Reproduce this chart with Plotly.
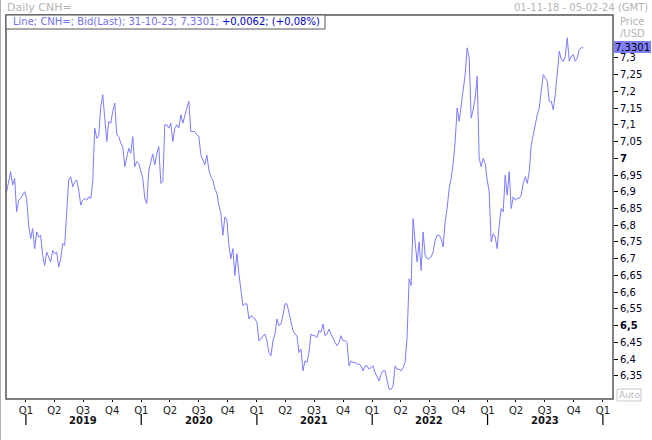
import pandas as pd
import plotly.graph_objects as go

# ---------------- data ----------------
start_date = "2018-11-01"
end_date = "2023-10-31"

cnh_values = [
    6.90, 6.935, 6.96, 6.92, 6.94, 6.84, 6.875, 6.88, 6.89, 6.90,
    6.88, 6.80, 6.76, 6.79, 6.73, 6.78, 6.765, 6.77, 6.71, 6.68,
    6.72, 6.705, 6.69, 6.725, 6.715, 6.72, 6.675, 6.70, 6.745, 6.74,
    6.855, 6.935, 6.945, 6.915, 6.93, 6.935, 6.905, 6.86, 6.875, 6.88,
    6.875, 6.885, 6.88, 6.93, 7.09, 7.06, 7.065, 7.155, 7.19, 7.115,
    7.05, 7.11, 7.105, 7.14, 7.165, 7.07, 7.065, 7.045, 7.035, 6.975,
    7.005, 7.03, 7.015, 7.065, 6.975, 6.99, 6.985, 6.965, 6.94, 6.88,
    6.865, 6.965, 6.99, 7.013, 6.98,
    7.015, 7.035, 6.925, 6.93, 7.10, 7.10, 7.09, 7.105, 7.05, 7.09,
    7.10, 7.09, 7.13, 7.105, 7.13, 7.15, 7.17, 7.08, 7.08, 7.08,
    7.07, 7.065, 7.01, 6.995, 6.98, 7.01, 6.965, 6.945, 6.935, 6.91,
    6.895, 6.86, 6.835, 6.77, 6.825, 6.815, 6.74, 6.70, 6.73, 6.65,
    6.715, 6.655, 6.60, 6.56, 6.565, 6.565, 6.52, 6.53, 6.525, 6.52,
    6.51, 6.455, 6.46, 6.47, 6.475, 6.455, 6.42, 6.41, 6.455, 6.475,
    6.52, 6.50, 6.505, 6.53, 6.565, 6.565, 6.54, 6.51, 6.485, 6.475,
    6.47, 6.42,
    6.43, 6.365, 6.395, 6.39, 6.42, 6.475, 6.47, 6.47, 6.465, 6.485,
    6.48, 6.505, 6.47, 6.475, 6.49, 6.475, 6.46, 6.45, 6.44, 6.45,
    6.47, 6.455, 6.455, 6.45, 6.38, 6.395, 6.39, 6.39, 6.385, 6.385,
    6.38, 6.365, 6.38, 6.38, 6.37, 6.375, 6.38, 6.36, 6.345, 6.335,
    6.355, 6.365, 6.365, 6.335, 6.31, 6.31, 6.32, 6.38, 6.37, 6.37,
    6.365, 6.375, 6.39, 6.465, 6.64, 6.62, 6.82, 6.75, 6.69, 6.75,
    6.665, 6.78, 6.71, 6.70, 6.70, 6.705, 6.72, 6.755, 6.77, 6.77,
    6.76, 6.735, 6.81,
    6.85, 6.91, 6.94, 6.985, 7.05, 7.15, 7.11, 7.16, 7.21, 7.25,
    7.33, 7.30, 7.12, 7.145, 7.18, 7.245, 7.00, 6.975, 7.00, 6.985,
    6.935, 6.90, 6.75, 6.775, 6.765, 6.73, 6.80, 6.85, 6.84, 6.95,
    6.89, 6.96, 6.85, 6.885, 6.875, 6.88, 6.88, 6.89, 6.925, 6.945,
    6.925, 6.96, 7.04, 7.07, 7.11, 7.13, 7.15, 7.20, 7.25, 7.24,
    7.23, 7.17, 7.17, 7.145, 7.19, 7.255, 7.32, 7.295, 7.29, 7.305,
    7.36, 7.29, 7.305, 7.31, 7.29, 7.30, 7.325, 7.33, 7.3301,
]

years = [2019, 2020, 2021, 2022, 2023, 2024]
quarter_names = ["Q1", "Q2", "Q3", "Q4"]
quarter_months = [1, 4, 7, 10]
year_label_years = [2019, 2020, 2021, 2022, 2023]
price_ticks = [7.30, 7.25, 7.20, 7.15, 7.10, 7.05, 7.00, 6.95, 6.90, 6.85,
               6.80, 6.75, 6.70, 6.65, 6.60, 6.55, 6.50, 6.45, 6.40, 6.35]
bold_ticks = [7.00, 6.50]
last_value_text = "7,3301"
legend_main = "Line; CNH=; Bid(Last); 31-10-23; 7,3301;"
legend_change = "+0,0062; (+0,08%)"

# ---------------- build ----------------
dates = pd.date_range(start_date, end_date, periods=len(cnh_values))

FONT = "DejaVu Sans"
LINE_COLOR = "#7b7bff"

fig = go.Figure()
fig.add_trace(go.Scatter(
    x=dates, y=cnh_values, mode="lines",
    line=dict(color=LINE_COLOR, width=1),
    hoverinfo="skip", showlegend=False,
))

# quarter ticks
q_vals, q_text = [], []
for y in years:
    for qn, qm in zip(quarter_names, quarter_months):
        if y == 2024 and qm > 1:
            continue
        q_vals.append(f"{y}-{qm:02d}-01")
        q_text.append(qn)

def fmt(v):
    s = f"{v:.2f}".rstrip("0").rstrip(".").replace(".", ",")
    return f"<b>{s}</b>" if round(v, 2) in bold_ticks else s

y_text = [fmt(v) for v in price_ticks]

W, H = 652, 440
ml, mr, mt, mb = 6, 39, 15, 41
pw, ph = W - ml - mr, H - mt - mb

def px_x(p):  # pixel x -> paper
    return (p - ml) / pw

def px_y(p):  # pixel y -> paper
    return 1 - (p - mt) / ph

fig.update_layout(
    width=W, height=H,
    margin=dict(l=ml, r=mr, t=mt, b=mb, autoexpand=False),
    paper_bgcolor="white", plot_bgcolor="white",
    separators=",.",
    font=dict(family=FONT, size=10, color="#000"),
    xaxis=dict(
        type="date",
        range=["2018-10-30", "2024-02-02"],
        tickmode="array", tickvals=q_vals, ticktext=q_text,
        ticks="outside", ticklen=2, tickcolor="#000",
        showgrid=False, zeroline=False, showline=False,
        tickfont=dict(family=FONT, size=10, color="#1a1a1a"),
        fixedrange=True,
    ),
    yaxis=dict(
        side="right",
        range=[6.281, 7.428],
        tickmode="array", tickvals=price_ticks, ticktext=y_text,
        ticks="outside", ticklen=4, tickcolor="#000",
        showgrid=False, zeroline=False, showline=False,
        tickfont=dict(family=FONT, size=10, color="#000022"),
        fixedrange=True,
    ),
)

shapes = []
# frame
shapes.append(dict(type="rect", xref="paper", yref="paper", x0=0, x1=1, y0=0, y1=1,
                   line=dict(color="#555555", width=1.5)))
# window left border
shapes.append(dict(type="line", xref="paper", yref="paper",
                   x0=px_x(0.5), x1=px_x(0.5), y0=px_y(440), y1=px_y(0),
                   line=dict(color="#b0b0b0", width=1)))
# legend box
shapes.append(dict(type="rect", xref="paper", yref="paper",
                   x0=0, x1=px_x(325), y0=px_y(29), y1=1,
                   line=dict(color="#555555", width=1), fillcolor="white"))
# year ticks (long marks below Q1 labels)
for y in years:
    shapes.append(dict(type="line", xref="x", yref="paper",
                       x0=f"{y}-01-01", x1=f"{y}-01-01",
                       y0=px_y(414), y1=px_y(425),
                       line=dict(color="#000", width=1.2)))
# last value marker background
shapes.append(dict(type="rect", xref="paper", yref="paper",
                   x0=px_x(614), x1=px_x(651), y0=px_y(53), y1=px_y(41),
                   line=dict(width=0), fillcolor="#8080ff"))
# Auto box
shapes.append(dict(type="rect", xref="paper", yref="paper",
                   x0=px_x(617), x1=px_x(641), y0=px_y(401), y1=px_y(389),
                   line=dict(color="#c8c8c8", width=1), fillcolor="white"))
fig.update_layout(shapes=shapes)

ann = []
for y in year_label_years:
    ann.append(dict(x=f"{y}-07-01", xref="x", y=px_y(413), yref="paper",
                    text=f"<b>{y}</b>", showarrow=False, yanchor="top", xanchor="center",
                    font=dict(family=FONT, size=10, color="#111")))
ann.append(dict(x=px_x(5), y=px_y(7), xref="paper", yref="paper",
                text="Daily CNH=", showarrow=False, xanchor="left", yanchor="middle",
                font=dict(family=FONT, size=11, color="#b4b4b4")))
ann.append(dict(x=px_x(650), y=px_y(7), xref="paper", yref="paper",
                text="01-11-18 - 05-02-24 (GMT)", showarrow=False, xanchor="right", yanchor="middle",
                font=dict(family=FONT, size=10, color="#b4b4b4")))
ann.append(dict(x=px_x(632), y=px_y(22), xref="paper", yref="paper",
                text="Price", showarrow=False, xanchor="center", yanchor="middle",
                font=dict(family=FONT, size=10, color="#b4b4b4")))
ann.append(dict(x=px_x(632), y=px_y(34), xref="paper", yref="paper",
                text="/USD", showarrow=False, xanchor="center", yanchor="middle",
                font=dict(family=FONT, size=10, color="#b4b4b4")))
ann.append(dict(x=px_x(11), y=px_y(22), xref="paper", yref="paper",
                text=f"<span style='color:#7070f0'>{legend_main}</span> "
                     f"<span style='color:#0000cc'>{legend_change}</span>",
                showarrow=False, xanchor="left", yanchor="middle",
                font=dict(family=FONT, size=10)))
ann.append(dict(x=px_x(632.5), y=px_y(47), xref="paper", yref="paper",
                text=last_value_text, showarrow=False, xanchor="center", yanchor="middle",
                font=dict(family=FONT, size=10, color="#000")))
ann.append(dict(x=px_x(629), y=px_y(395), xref="paper", yref="paper",
                text="Auto", showarrow=False, xanchor="center", yanchor="middle",
                font=dict(family=FONT, size=9, color="#bbbbbb")))
fig.update_layout(annotations=ann)

fig.write_html(
    "out.html",
    config={"displayModeBar": False},
    post_script="document.body.style.margin='0';document.body.style.padding='0';",
)
